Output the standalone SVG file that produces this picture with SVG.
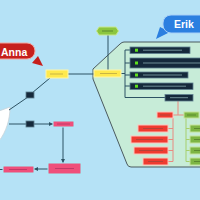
<svg xmlns="http://www.w3.org/2000/svg" width="200" height="200" viewBox="0 0 200 200">
<defs>
<style>
.ln{stroke:#2d5364;stroke-width:1;fill:none}
.rl{stroke:#e88a80;stroke-width:1;fill:none}
.gl{stroke:#a6cf6c;stroke-width:1;fill:none}
.yel{fill:#ffe94d;stroke:#fff6a8;stroke-width:1}
.yi{stroke:#c9b545;stroke-width:1}
.dk{fill:#15293b;stroke:#5f8190;stroke-width:0.8}
.di{stroke:#6f8e96;stroke-width:1}
.gs{fill:#5ee01c}
.pk{fill:#ef4f7b;stroke:#a5eef7;stroke-width:1}
.pi{stroke:#c23a68;stroke-width:1}
.rd{fill:#ef3b30;stroke:#ffc3bb;stroke-width:1}
.ri{stroke:#b54238;stroke-width:1}
.gn{fill:#7db543;stroke:#c5e39a;stroke-width:1}
.gi{stroke:#5b8a2e;stroke-width:1}
.lbl{font-family:"Liberation Sans",Arial,sans-serif;font-weight:bold;font-size:10.5px;fill:#ffffff}
</style>
<marker id="ar" viewBox="0 0 6 6" refX="6" refY="3" markerWidth="4" markerHeight="4" orient="auto">
<path d="M0,0 L6,3 L0,6 Z" fill="#2d5364"/>
</marker>
</defs>
<rect width="200" height="200" fill="#b5e2f6"/>
<g id="erik-region">
<path d="M124,42 L201,42 L201,167 L131,167 Q128,167 127,164 L93,79 L93,69 L120,44 Q122,42 124,42 Z" fill="#c7ecd8" stroke="#4b5a5f" stroke-width="1"/>
</g>
<g id="anna-region">
<path d="M-1,111 L10,107 C10,120 6,132 -1,141 Z" fill="#ffffff" stroke="#c9d3d8" stroke-width="0.8"/>
</g>
<g id="connectors">
<line class="ln" x1="50" y1="78" x2="32" y2="93"/>
<line class="ln" x1="28" y1="97" x2="9" y2="110"/>
<line class="ln" x1="68" y1="74" x2="94" y2="74"/>
<line class="ln" x1="108" y1="70" x2="108" y2="35"/>
<line class="ln" x1="121" y1="73.5" x2="125" y2="73.5"/>
<line class="ln" x1="125" y1="50" x2="125" y2="97.5"/>
<line class="ln" x1="125" y1="50" x2="130" y2="50"/>
<line class="ln" x1="125" y1="63" x2="130" y2="63"/>
<line class="ln" x1="125" y1="75" x2="130" y2="75"/>
<line class="ln" x1="125" y1="86" x2="130" y2="86"/>
<line class="ln" x1="125" y1="97.5" x2="165" y2="97.5"/>
<line class="ln" x1="9" y1="124" x2="26" y2="124"/>
<line class="ln" x1="34" y1="124" x2="53" y2="124" marker-end="url(#ar)"/>
<line class="ln" x1="63" y1="127" x2="63" y2="163" marker-end="url(#ar)"/>
<line class="ln" x1="48" y1="169" x2="34" y2="169" marker-end="url(#ar)"/>
<line class="ln" x1="3" y1="169.5" x2="-1" y2="169.5"/>
<line class="rl" x1="178" y1="101" x2="178" y2="115"/>
<line class="rl" x1="173" y1="115" x2="184" y2="115"/>
<path class="rl" d="M173,118 V161.5 M168,128.5 H173 M168,139.5 H173 M168,150.5 H173 M168,161.5 H173"/>
<path class="gl" d="M186,118 V161.5 M186,128.5 H190 M186,139.5 H190 M186,150.5 H190 M186,161.5 H190"/>
</g>
<g id="anna-yellow"><rect class="yel" x="46" y="70" width="22" height="8"/><line class="yi" x1="50" y1="74" x2="63" y2="74"/></g>
<g id="erik-yellow"><rect class="yel" x="94" y="70" width="27" height="7"/><line class="yi" x1="100" y1="73.5" x2="117" y2="73.5"/></g>
<g id="green-top"><polygon points="99,27 116,27 118.5,31 116,35 99,35 96.5,31" fill="#8cc63e" stroke="#c8e890" stroke-width="1"/><line class="gi" x1="102" y1="31" x2="113" y2="31"/></g>
<g id="sq1"><rect class="dk" x="26" y="92" width="8" height="6"/></g>
<g id="sq2"><rect class="dk" x="26" y="121" width="8" height="6"/></g>
<g id="d1"><rect class="dk" x="130" y="47" width="60" height="6.5"/><rect class="gs" x="135" y="48.7" width="3" height="3"/><line class="di" x1="143" y1="50.2" x2="182" y2="50.2"/></g>
<g id="d2"><rect class="dk" x="130" y="58" width="72" height="10"/><rect class="gs" x="135" y="61.5" width="3" height="3"/><line class="di" x1="143" y1="63" x2="201" y2="63"/></g>
<g id="d3"><rect class="dk" x="130" y="72" width="58" height="6"/><rect class="gs" x="135" y="73.5" width="3" height="3"/><line class="di" x1="143" y1="75" x2="182" y2="75"/></g>
<g id="d4"><rect class="dk" x="130" y="83" width="63" height="6.5"/><rect class="gs" x="135" y="84.7" width="3" height="3"/><line class="di" x1="143" y1="86.2" x2="186" y2="86.2"/></g>
<g id="d5"><rect class="dk" x="165" y="94.5" width="28" height="6.5"/><line class="di" x1="170" y1="97.7" x2="188" y2="97.7"/></g>
<g id="p1"><rect class="pk" x="53" y="121" width="21" height="6"/><line class="pi" x1="57" y1="124" x2="70" y2="124"/></g>
<g id="p2"><rect class="pk" x="48" y="163" width="33" height="11"/><line class="pi" x1="55" y1="168.5" x2="74" y2="168.5"/></g>
<g id="p3"><rect class="pk" x="3" y="166" width="31" height="7"/><line class="pi" x1="9" y1="169.5" x2="27" y2="169.5"/></g>
<g id="r0"><rect class="rd" x="157" y="112" width="16" height="6"/><line class="ri" x1="160" y1="115" x2="170" y2="115"/></g>
<g id="r1"><rect class="rd" x="138" y="125" width="30" height="7"/><line class="ri" x1="143" y1="128.5" x2="163" y2="128.5"/></g>
<g id="r2"><rect class="rd" x="131" y="136" width="37" height="7"/><line class="ri" x1="136" y1="139.5" x2="163" y2="139.5"/></g>
<g id="r3"><rect class="rd" x="134" y="147" width="34" height="7"/><line class="ri" x1="139" y1="150.5" x2="163" y2="150.5"/></g>
<g id="r4"><rect class="rd" x="143" y="158" width="25" height="7"/><line class="ri" x1="148" y1="161.5" x2="163" y2="161.5"/></g>
<g id="g0"><rect class="gn" x="184" y="112" width="15" height="6"/><line class="gi" x1="187" y1="115" x2="196" y2="115"/></g>
<g id="g1"><rect class="gn" x="190" y="125" width="12" height="7"/><line class="gi" x1="194" y1="128.5" x2="201" y2="128.5"/></g>
<g id="g2"><rect class="gn" x="190" y="136" width="12" height="7"/><line class="gi" x1="194" y1="139.5" x2="201" y2="139.5"/></g>
<g id="g3"><rect class="gn" x="190" y="147" width="12" height="7"/><line class="gi" x1="194" y1="150.5" x2="201" y2="150.5"/></g>
<g id="g4"><rect class="gn" x="190" y="158" width="12" height="7"/><line class="gi" x1="194" y1="161.5" x2="201" y2="161.5"/></g>
<g id="anna-label">
<polygon points="32,63 38,56 43,66" fill="#c61f1c"/>
<rect x="-10" y="43" width="45" height="16" rx="8" fill="#c61f1c" stroke="#f2a7a0" stroke-width="1"/>
<text class="lbl" x="1" y="56">Anna</text>
</g>
<g id="erik-label">
<polygon points="160,27 170,32 156,39" fill="#2b7fe0"/>
<rect x="163" y="15" width="45" height="18" rx="8" fill="#2b7fe0" stroke="#a8d0f8" stroke-width="1"/>
<text class="lbl" x="174" y="28">Erik</text>
</g>
</svg>
